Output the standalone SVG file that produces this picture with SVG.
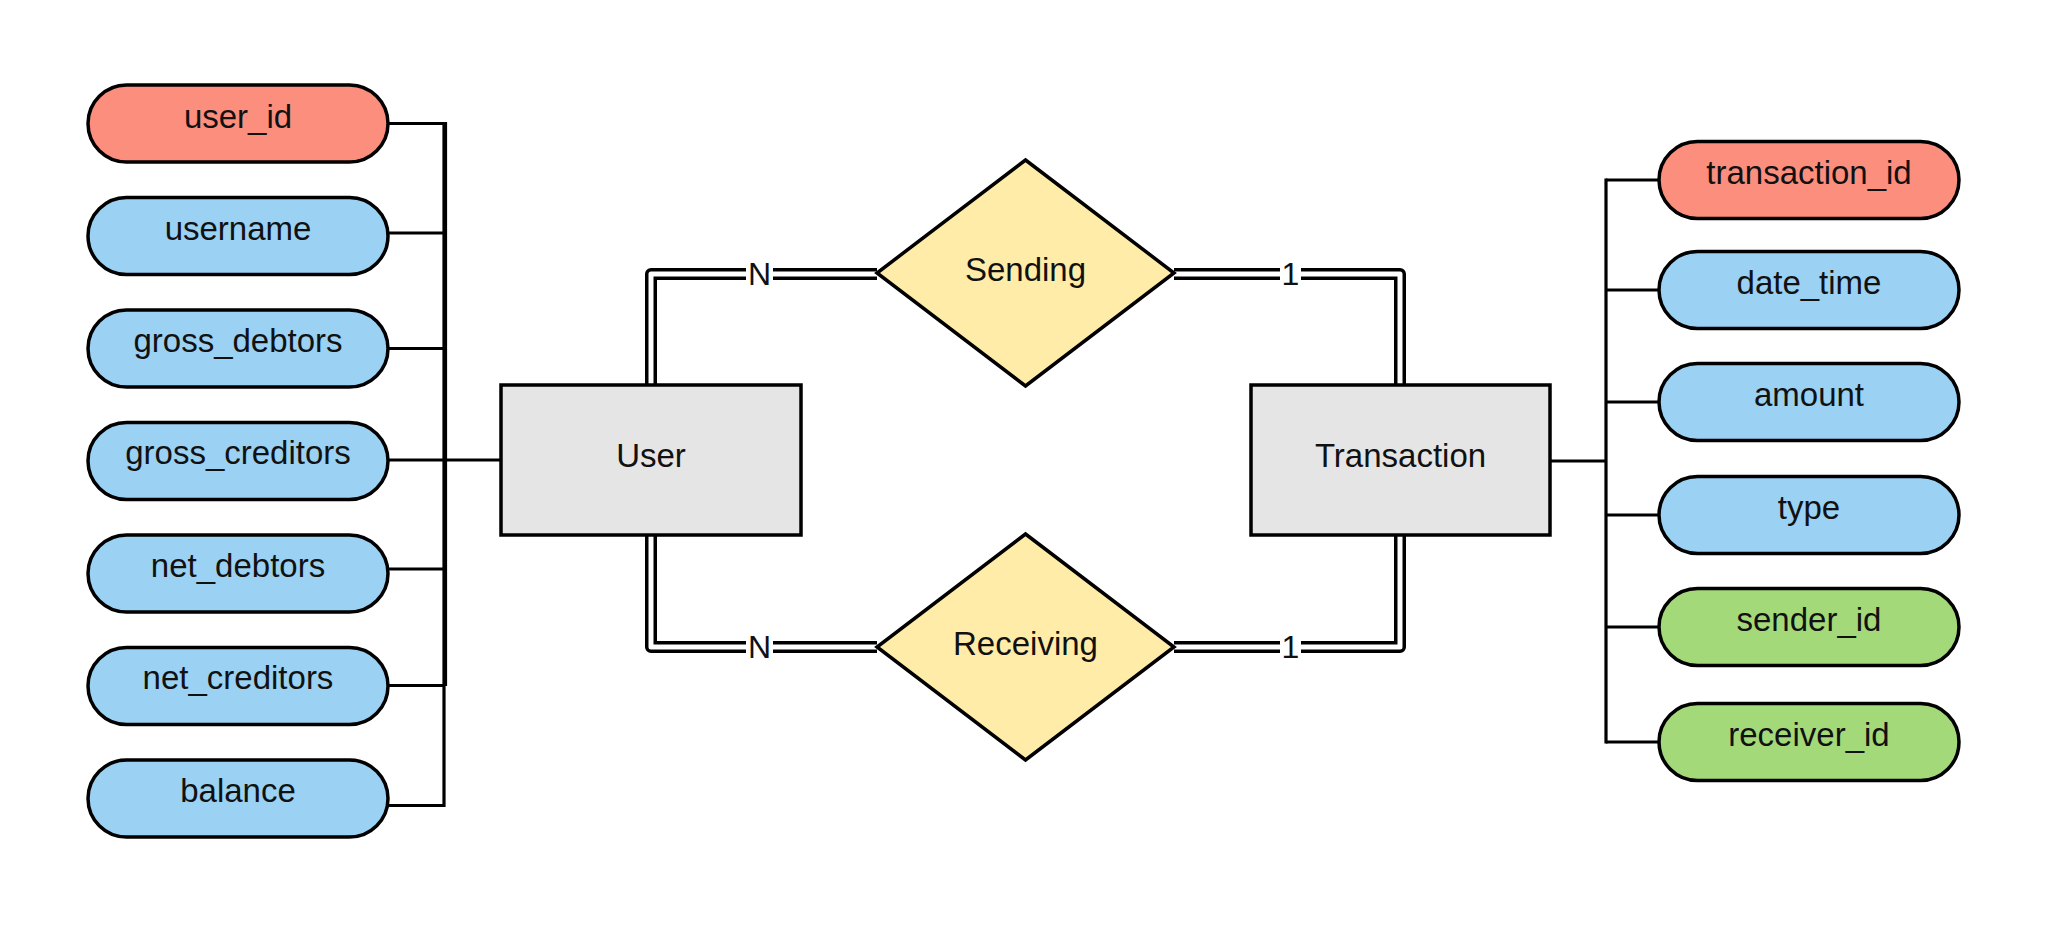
<svg xmlns="http://www.w3.org/2000/svg" width="2062" height="926" viewBox="0 0 2062 926">
<style>
.attr{stroke:#000;stroke-width:3.5}
.pk{fill:#FC8E7E}
.reg{fill:#9BD1F3}
.fk{fill:#A4D97A}
.ent{fill:#E5E5E5;stroke:#000;stroke-width:3.5}
.rel{fill:#FFECA8;stroke:#000;stroke-width:3.5}
.t{font-family:"Liberation Sans",Arial,sans-serif;font-size:33px;fill:#111;text-anchor:middle}
.lbl{font-family:"Liberation Sans",Arial,sans-serif;font-size:32px;fill:#111;text-anchor:middle}
.ln{fill:none;stroke:#000;stroke-width:3.2}
.dblo{fill:none;stroke:#000;stroke-width:12;stroke-linejoin:round}
.dbli{fill:none;stroke:#fff;stroke-width:5;stroke-linejoin:round}
</style>
<rect width="2062" height="926" fill="#fff"/>
<g id="connectors">
<path class="ln" d="M388 123.5H444M388 233H444M388 348.5H444M388 460H501M388 569H444M388 685.5H444M388 805.5H444"/>
<path class="ln" d="M444 122V807"/>
<path class="ln" d="M445.5 122V686"/>
<path class="ln" d="M1550 461H1606M1606 180H1659M1606 290H1659M1606 402H1659M1606 515H1659M1606 627H1659M1606 742H1659"/>
<path class="ln" d="M1606 178.5V743.5"/>
<g id="sending-user">
<path class="dblo" d="M651 386V274H877"/>
<path class="dbli" d="M651 387V274H879"/>
<rect x="746" y="258" width="27" height="30" fill="#fff"/>
<text class="lbl" x="759.5" y="285">N</text>
</g>
<g id="sending-transaction">
<path class="dblo" d="M1174 274H1400V386"/>
<path class="dbli" d="M1172 274H1400V387"/>
<rect x="1280" y="258" width="21" height="30" fill="#fff"/>
<text class="lbl" x="1290.5" y="285">1</text>
</g>
<g id="receiving-user">
<path class="dblo" d="M651 534V647H877"/>
<path class="dbli" d="M651 533V647H879"/>
<rect x="746" y="631" width="27" height="30" fill="#fff"/>
<text class="lbl" x="759.5" y="658">N</text>
</g>
<g id="receiving-transaction">
<path class="dblo" d="M1174 647H1400V534"/>
<path class="dbli" d="M1172 647H1400V533"/>
<rect x="1280" y="631" width="21" height="30" fill="#fff"/>
<text class="lbl" x="1290.5" y="658">1</text>
</g>
</g>
<g id="user_id"><rect class="attr pk" x="88" y="85" width="300" height="77" rx="38.5"/><text class="t" x="238" y="128">user_id</text></g>
<g id="username"><rect class="attr reg" x="88" y="197.5" width="300" height="77" rx="38.5"/><text class="t" x="238" y="240">username</text></g>
<g id="gross_debtors"><rect class="attr reg" x="88" y="310" width="300" height="77" rx="38.5"/><text class="t" x="238" y="352">gross_debtors</text></g>
<g id="gross_creditors"><rect class="attr reg" x="88" y="422.5" width="300" height="77" rx="38.5"/><text class="t" x="238" y="464">gross_creditors</text></g>
<g id="net_debtors"><rect class="attr reg" x="88" y="535" width="300" height="77" rx="38.5"/><text class="t" x="238" y="577">net_debtors</text></g>
<g id="net_creditors"><rect class="attr reg" x="88" y="647.5" width="300" height="77" rx="38.5"/><text class="t" x="238" y="689">net_creditors</text></g>
<g id="balance"><rect class="attr reg" x="88" y="760" width="300" height="77" rx="38.5"/><text class="t" x="238" y="802">balance</text></g>
<g id="User"><rect class="ent" x="501" y="385" width="300" height="150"/><text class="t" x="651" y="467">User</text></g>
<g id="Transaction"><rect class="ent" x="1251" y="385" width="299" height="150"/><text class="t" x="1400.5" y="467">Transaction</text></g>
<g id="Sending"><path class="rel" d="M1025.5 160L1174 273L1025.5 386L877 273Z"/><text class="t" x="1025.5" y="281">Sending</text></g>
<g id="Receiving"><path class="rel" d="M1025.5 534L1174 647L1025.5 760L877 647Z"/><text class="t" x="1025.5" y="655">Receiving</text></g>
<g id="transaction_id"><rect class="attr pk" x="1659" y="141.5" width="300" height="77" rx="38.5"/><text class="t" x="1809" y="184">transaction_id</text></g>
<g id="date_time"><rect class="attr reg" x="1659" y="251.5" width="300" height="77" rx="38.5"/><text class="t" x="1809" y="294">date_time</text></g>
<g id="amount"><rect class="attr reg" x="1659" y="363.5" width="300" height="77" rx="38.5"/><text class="t" x="1809" y="406">amount</text></g>
<g id="type"><rect class="attr reg" x="1659" y="476.5" width="300" height="77" rx="38.5"/><text class="t" x="1809" y="519">type</text></g>
<g id="sender_id"><rect class="attr fk" x="1659" y="588.5" width="300" height="77" rx="38.5"/><text class="t" x="1809" y="631">sender_id</text></g>
<g id="receiver_id"><rect class="attr fk" x="1659" y="703.5" width="300" height="77" rx="38.5"/><text class="t" x="1809" y="746">receiver_id</text></g>
</svg>
